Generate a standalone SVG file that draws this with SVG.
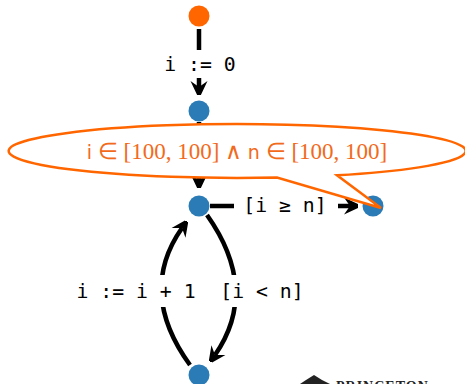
<svg xmlns="http://www.w3.org/2000/svg" width="465" height="384" viewBox="0 0 465 384">
<style>
.edge{fill:none;stroke:#000;stroke-width:4.5}
.lbl{font-family:"DejaVu Sans Mono",monospace;font-size:19.8px;fill:#000;text-anchor:middle}
.bg{fill:#fff}
.blue{fill:#2b7bb7}
.orange{fill:#ff6600}
.math{font-family:"Liberation Serif",serif;font-size:23px;fill:#f26a1b}
.mv{font-family:"DejaVu Sans",sans-serif;font-size:19px}
</style>
<defs>
<marker id="ah" viewBox="-12 -9 20 18" refX="0" refY="0" markerWidth="20" markerHeight="18" markerUnits="userSpaceOnUse" orient="auto">
<path d="M12,0 L-6,-8.5 L0,0 L-6,8.5 Z" fill="#000"/>
</marker>
</defs>
<rect width="465" height="384" fill="#fff"/>
<g id="connectors">
<path class="edge" d="M199,29 L199,87" marker-end="url(#ah)"/>
<path class="edge" d="M199,122 L199,180" marker-end="url(#ah)"/>
<path class="edge" d="M210,206 L350,206" marker-end="url(#ah)"/>
<path class="edge" d="M207,215 Q260,290 215,355" marker-end="url(#ah)"/>
<path class="edge" d="M190,365 Q137,292 182,228" marker-end="url(#ah)"/>
<rect class="bg" x="158" y="50" width="84" height="28"/>
<text class="lbl" x="200" y="71">i := 0</text>
<rect class="bg" x="234" y="192" width="104" height="28"/>
<text class="lbl" x="285" y="212">[i ≥ n]</text>
<rect class="bg" x="72" y="275" width="126" height="32"/>
<text class="lbl" x="136" y="298">i := i + 1</text>
<rect class="bg" x="216" y="275" width="92" height="32"/>
<text class="lbl" x="262" y="298">[i &lt; n]</text>
</g>
<g id="n_start"><circle class="orange" cx="199" cy="16" r="10.5"/></g>
<g id="n_init"><circle class="blue" cx="199" cy="111" r="10.5"/></g>
<g id="n_head"><circle class="blue" cx="199" cy="206" r="10.5"/></g>
<g id="n_exit"><circle class="blue" cx="373" cy="206" r="10.5"/></g>
<g id="n_body"><circle class="blue" cx="199" cy="375" r="10.5"/></g>
<g id="annotation">
<path d="M277,177.6 A228.5,27 0 1 1 337,175.3 L381,208 Z" fill="#fff" stroke="#ff6600" stroke-width="2.5" stroke-linejoin="miter"/>
<text class="math" x="237" y="159" text-anchor="middle"><tspan class="mv">i</tspan> ∈ [100<tspan>,</tspan> 100] ∧ <tspan class="mv">n</tspan> ∈ [100<tspan>,</tspan> 100]</text>
</g>
<g id="logo">
<path d="M300,384 L306,380 L314,375 L322,380 L330,384 Z" fill="#222"/>
<text x="336" y="391" font-family="Liberation Serif,serif" font-weight="bold" font-size="14" fill="#222" letter-spacing="1">PRINCETON</text>
</g>
</svg>
